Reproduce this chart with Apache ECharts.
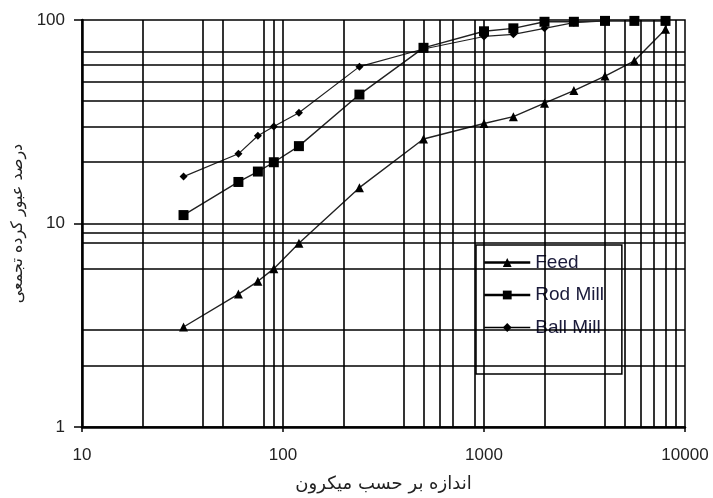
<!DOCTYPE html>
<html>
<head>
<meta charset="utf-8">
<script src="https://cdn.jsdelivr.net/npm/echarts@6/dist/echarts.min.js"></script>
<style>
    html, body { margin: 0; padding: 0; background: #fff; }
    #chart { width: 713px; height: 498px; }
</style>
</head>
<body>
<div id="chart"></div>
<script>
// 数据
var feedSize = [32, 60, 75, 90, 120, 240, 500, 1000, 1400, 2000, 2800, 4000, 5600, 8000];
var feedPass = [3.1, 4.5, 5.2, 6, 8, 15, 26, 31, 33.5, 39, 45, 53, 63, 90];

var rodSize = [32, 60, 75, 90, 120, 240, 500, 1000, 1400, 2000, 2800, 4000, 5600, 8000];
var rodPass = [11, 16, 18, 20, 24, 43, 73, 88, 91, 98, 98, 99, 99, 99];

var ballSize = [32, 60, 75, 90, 120, 240, 500, 1000, 1400, 2000, 2800, 4000, 5600, 8000];
var ballPass = [17, 22, 27, 30, 35, 59, 72, 83, 85, 91, 97, 99, 99, 99];

// 网格线 (原图的网格不规则)
var gridX = [20, 40, 50, 80, 90, 100, 200, 400, 500, 600, 700, 900, 1000, 2000, 4000, 5000, 6000, 7000, 8000, 9000];
var gridY = [2, 3, 6, 8, 9, 10, 20, 30, 40, 50, 60, 70];

function pairs(xs, ys) {
    var out = [];
    for (var i = 0; i < xs.length; i++) {
        out.push([xs[i], ys[i]]);
    }
    return out;
}

function gridLines() {
    var out = [];
    for (var i = 0; i < gridX.length; i++) out.push({ xAxis: gridX[i] });
    for (var j = 0; j < gridY.length; j++) out.push({ yAxis: gridY[j] });
    return out;
}

var numFont = "'Liberation Sans', Arial, sans-serif";
var faFont = "'DejaVu Sans', sans-serif";

var myChart = echarts.init(document.getElementById("chart"));
var option = {
    animation: false,
    backgroundColor: "#fff",
    grid: {
        left: 82, right: 28, top: 20, bottom: 69,
        show: true,
        borderColor: "#000",
        borderWidth: 1.5
    },
    legend: {
        data: [
            { name: "Feed", lineStyle: { width: 2.5, color: "#000" } },
            { name: "Rod Mill", lineStyle: { width: 2.5, color: "#000" } },
            { name: "Ball Mill", lineStyle: { width: 1.5, color: "#000" } }
        ],
        orient: "vertical",
        left: 476,
        top: 245,
        padding: [8, 18, 37, 7],
        itemGap: 13.5,
        itemWidth: 46,
        itemHeight: 11,
        backgroundColor: "#fff",
        borderColor: "#000",
        borderWidth: 1.5,
        textStyle: { fontFamily: numFont, fontSize: 19, color: "#1a1a3a" }
    },
    xAxis: {
        type: "log",
        logBase: 10,
        min: 10,
        max: 10000,
        name: "اندازه بر حسب میکرون",
        nameLocation: "middle",
        nameGap: 48,
        nameTextStyle: { fontFamily: faFont, fontSize: 18, color: "#222" },
        axisLine: { lineStyle: { color: "#000", width: 2.5 } },
        axisTick: { inside: false, length: 5, lineStyle: { color: "#000", width: 1.5 } },
        axisLabel: {
            fontFamily: numFont, fontSize: 17, color: "#222", margin: 20,
            formatter: function (v) { return String(v); }
        },
        splitLine: { show: false },
        minorTick: { show: false }
    },
    yAxis: {
        type: "log",
        logBase: 10,
        min: 1,
        max: 100,
        name: "درصد عبور کرده تجمعی",
        nameLocation: "middle",
        nameRotate: 90,
        nameGap: 54,
        nameTextStyle: { fontFamily: faFont, fontSize: 16, color: "#222" },
        axisLine: { lineStyle: { color: "#000", width: 2.5 } },
        axisTick: { inside: false, length: 8, lineStyle: { color: "#000", width: 1.5 } },
        axisLabel: {
            fontFamily: numFont, fontSize: 17, color: "#222", margin: 17,
            formatter: function (v) { return String(v); }
        },
        splitLine: { show: false }
    },
    series: [{
        name: "grid",
        type: "line",
        data: [],
        z: 1,
        silent: true,
        markLine: {
            silent: true,
            symbol: ["none", "none"],
            label: { show: false },
            animation: false,
            lineStyle: { color: "#000", width: 1.6, type: "solid" },
            emphasis: { disabled: true },
            data: gridLines()
        }
    }, {
        name: "Feed",
        type: "line",
        z: 3,
        data: pairs(feedSize, feedPass),
        symbol: "triangle",
        symbolSize: 9,
        lineStyle: { color: "#222", width: 1.4 },
        itemStyle: { color: "#000" }
    }, {
        name: "Rod Mill",
        type: "line",
        z: 3,
        data: pairs(rodSize, rodPass),
        symbol: "rect",
        symbolSize: 10,
        lineStyle: { color: "#222", width: 1.4 },
        itemStyle: { color: "#000" }
    }, {
        name: "Ball Mill",
        type: "line",
        z: 3,
        data: pairs(ballSize, ballPass),
        symbol: "diamond",
        symbolSize: 8,
        lineStyle: { color: "#222", width: 1.2 },
        itemStyle: { color: "#000" }
    }]
};
myChart.setOption(option);
</script>
</body>
</html>
